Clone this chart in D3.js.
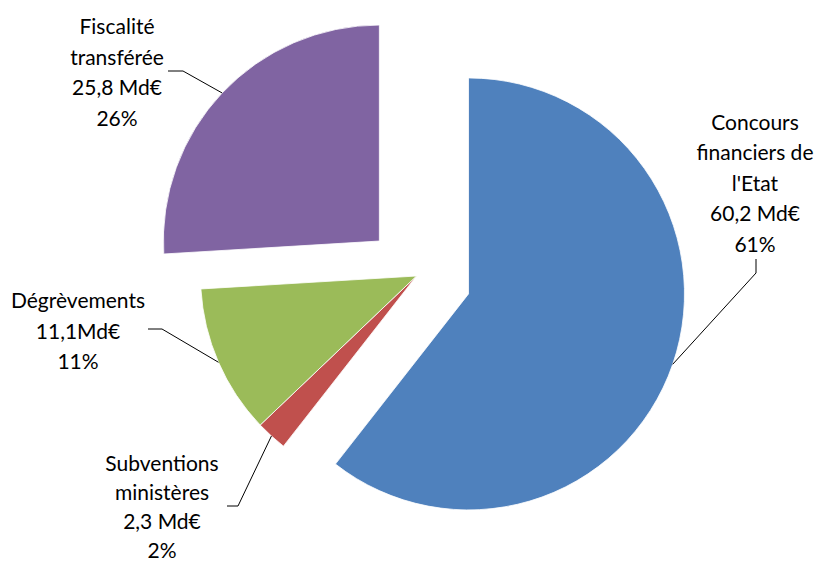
<!DOCTYPE html>
<html>
<head>
<meta charset="utf-8">
<script src="https://cdn.jsdelivr.net/npm/d3@7"></script>
<style>
  body { margin: 0; background: #fff; }
  svg { display: block; }
  text { font-family: Lato, "Liberation Sans", sans-serif; fill: #000; }
</style>
</head>
<body>
<svg></svg>
<script>
const width = 820
const height = 561

// data
const nameLines = [["Concours", "financiers de", "l'Etat"], ["Subventions", "ministères"], ["Dégrèvements"], ["Fiscalité", "transférée"]]
const values = [60.2, 2.3, 11.1, 25.8]
const valueLabels = ["60,2 Md€", "2,3 Md€", "11,1Md€", "25,8 Md€"]
const colors = ["#4F81BD", "#C0504D", "#9BBB59", "#8064A2"]

// layout: explode offset, label block center x / first baseline / line height, leader elbow + end
const explode = [55, 0, 0, 51]
const labelPos = [
  { x: 755, y: 130, lh: 30.4, elbow: [756, 273], end: [756, 259] },
  { x: 162, y: 471, lh: 29, elbow: [238, 506], end: [227, 506] },
  { x: 78, y: 308, lh: 30.5, elbow: [162, 329], end: [148, 329] },
  { x: 117, y: 34, lh: 30.7, elbow: [183, 71], end: [168, 71] }
]
const cx = 416.5, cy = 276, radius = 216

const svg = d3.select("svg").attr("width", width).attr("height", height)

const total = d3.sum(values)
const pie = d3.pie().sort(null).value(d => d)
const arcs = pie(values)
const arc = d3.arc().innerRadius(0).outerRadius(radius)

const g = svg.append("g").attr("transform", "translate(" + cx + "," + cy + ")")

function offset(d, i) {
  const a = (d.startAngle + d.endAngle) / 2
  return [explode[i] * Math.sin(a), -explode[i] * Math.cos(a)]
}

g.selectAll("path")
  .data(arcs)
  .enter()
  .append("path")
  .attr("d", arc)
  .attr("fill", (d, i) => colors[i])
  .attr("stroke", "#fff")
  .attr("stroke-width", 0.8)
  .attr("transform", (d, i) => "translate(" + offset(d, i) + ")")

// leader lines
svg.selectAll(".leader")
  .data(arcs)
  .enter()
  .append("polyline")
  .attr("class", "leader")
  .attr("fill", "none")
  .attr("stroke", "#000")
  .attr("stroke-width", 1)
  .attr("points", (d, i) => {
    const a = (d.startAngle + d.endAngle) / 2
    const o = offset(d, i)
    const px = cx + o[0] + radius * Math.sin(a)
    const py = cy + o[1] - radius * Math.cos(a)
    const p = labelPos[i]
    return [[px, py], p.elbow, p.end].map(q => q.join(",")).join(" ")
  })

// labels
arcs.forEach((d, i) => {
  const pct = Math.round(values[i] / total * 100) + "%"
  const lines = nameLines[i].concat([valueLabels[i], pct])
  const t = svg.append("text")
    .attr("text-anchor", "middle")
    .style("font-size", "21px")
  t.selectAll("tspan")
    .data(lines)
    .enter()
    .append("tspan")
    .attr("x", labelPos[i].x)
    .attr("y", (l, j) => labelPos[i].y + j * labelPos[i].lh)
    .text(l => l)
})
</script>
</body>
</html>
